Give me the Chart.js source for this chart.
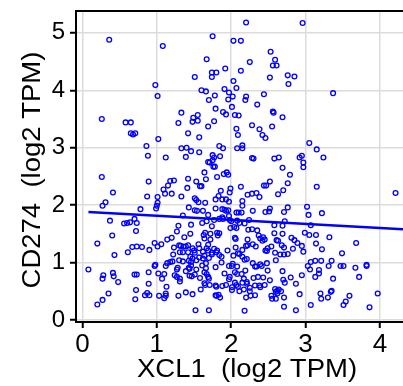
<!DOCTYPE html>
<html>
<head>
<meta charset="utf-8">
<script src="https://cdn.jsdelivr.net/npm/chart.js@4/dist/chart.umd.min.js"></script>
<style>
  html, body { margin: 0; padding: 0; background: #fff; overflow: hidden; }
  canvas { display: block; }
</style>
</head>
<body>
<canvas id="myChart" width="403" height="386"></canvas>
<script>
// XCL1 expression (log2 TPM), one value per sample
var xcl1 = [
  2.20, 2.96, 0.36, 1.08, 1.75, 2.03, 2.13, 2.53, 2.59, 2.25,
  1.67, 2.56, 2.61, 2.13, 1.92, 1.74, 1.80, 1.74, 1.51, 2.52,
  2.76, 2.85, 2.77, 2.03, 0.98, 2.07, 1.60, 1.66, 1.91, 1.97,
  3.37, 2.44, 1.78, 2.02, 1.01, 2.20, 2.19, 1.96, 1.70, 2.35,
  2.01, 1.79, 2.56, 2.57, 1.33, 1.89, 1.93, 2.05, 2.10, 1.55,
  1.49, 1.48, 1.55, 2.69, 0.26, 0.58, 0.65, 1.29, 1.77, 2.55,
  1.69, 2.28, 2.07, 2.38, 0.65, 0.68, 0.71, 1.42, 2.09, 2.42,
  2.46, 1.57, 1.02, 3.05, 0.86, 1.84, 1.89, 2.15, 2.15, 2.08,
  1.33, 1.40, 1.46, 3.15, 1.57, 2.28, 2.30, 0.88, 1.12, 1.39,
  1.75, 1.77, 1.75, 1.85, 2.58, 2.64, 2.92, 2.95, 3.24, 2.97,
  2.97, 1.69, 1.71, 1.76, 1.78, 2.69, 1.64, 1.94, 1.90, 1.96,
  2.79, 1.81, 0.26, 1.23, 1.18, 1.42, 1.66, 0.89, 1.53, 1.58,
  1.60, 2.52, 2.44, 2.47, 2.76, 3.15, 1.15, 1.41, 1.09, 1.99,
  1.98, 2.13, 2.70, 1.86, 1.11, 1.20, 0.41, 4.21, 2.28, 2.34,
  2.22, 2.63, 1.83, 0.87, 1.33, 1.01, 2.38, 1.51, 1.53, 1.56,
  1.79, 1.88, 1.93, 1.97, 2.15, 2.15, 1.01, 0.31, 1.65, 0.27,
  1.00, 0.99, 3.02, 2.76, 1.43, 2.52, 2.51, 1.79, 1.91, 1.93,
  1.96, 0.78, 1.51, 1.54, 1.62, 1.88, 2.29, 2.07, 2.10, 2.14,
  2.46, 2.71, 3.22, 3.04, 1.35, 1.69, 1.97, 1.88, 1.89, 1.84,
  1.77, 1.98, 2.00, 2.08, 0.70, 0.37, 0.64, 0.60, 0.56, 0.73,
  2.24, 2.72, 1.61, 1.67, 2.11, 2.18, 1.46, 1.29, 3.07, 2.58,
  2.69, 1.74, 2.04, 2.07, 1.99, 0.72, 2.28, 2.23, 1.65, 1.45,
  1.72, 1.81, 1.82, 1.84, 2.35, 2.99, 3.05, 3.14, 2.58, 2.69,
  1.27, 0.40, 1.37, 1.20, 1.14, 3.32, 1.63, 1.64, 2.05, 2.06,
  2.37, 2.39, 2.43, 2.45, 2.42, 2.81, 2.85, 2.22, 1.72, 2.61,
  2.63, 2.89, 0.97, 1.06, 0.20, 3.68, 1.30, 1.32, 1.36, 1.39,
  1.42, 1.56, 1.57, 1.69, 2.22, 2.20, 2.29, 3.14, 2.33, 2.68,
  2.71, 2.95, 0.67, 0.73, 0.80, 1.01, 1.23, 2.06, 2.54, 2.49,
  1.48, 1.50, 1.67, 1.69, 2.83, 0.90, 0.61, 2.97, 3.22, 1.77,
  1.80, 1.81, 1.95, 2.15, 2.46, 2.48, 1.31, 1.35, 1.42, 1.51,
  1.62, 1.64, 1.74, 1.74, 2.09, 2.11, 3.49, 2.59, 1.22, 0.43,
  2.66, 2.71, 2.76, 1.84, 1.87, 1.45, 1.48, 2.03, 1.57, 1.70,
  2.15, 2.18, 2.21, 1.30, 1.35, 1.18, 1.21, 1.43, 1.46, 1.53,
  1.62, 2.60, 3.13, 3.21, 3.35, 3.07, 1.14, 1.12, 2.29, 2.02,
  2.39, 2.41, 2.48, 0.98, 0.97, 1.46, 1.66, 1.61, 1.97, 2.01,
  1.87, 2.32, 2.34, 3.03, 3.31, 3.47, 3.51, 3.67, 3.82, 3.82,
  0.08, 1.28, 1.27, 1.43, 1.44, 1.53, 1.66, 1.79, 2.08, 2.19,
  2.49, 2.69, 3.06, 3.18, 0.41, 0.42, 1.02, 0.89, 1.64, 1.67,
  2.05, 2.08, 1.39, 1.24, 1.27, 1.51, 1.10, 1.44, 1.47, 1.91,
  2.14, 1.98, 1.97, 2.95, 2.36, 2.43, 3.18, 3.13, 2.80, 3.72,
  3.37, 0.28, 0.27, 0.70, 0.73, 1.07, 1.31, 1.31, 1.58, 1.69,
  1.70, 2.17, 2.30, 2.52, 2.70, 2.72, 0.48, 0.89, 2.15, 2.21,
  2.21, 2.87, 1.64, 1.65, 1.88, 1.93, 2.05, 2.07, 2.09, 2.01,
  1.71, 1.79, 1.80, 2.32, 2.38, 2.39, 1.13, 1.59, 2.45, 2.59,
  2.64, 2.62, 2.60, 2.67, 2.62, 2.25, 2.25, 2.17, 3.34, 3.35,
  0.72, 2.01, 3.97, 0.35, 0.84, 0.87, 0.90, 1.12, 1.12, 1.29,
  1.48, 1.39, 1.79, 1.80, 1.83, 1.85, 1.03, 1.10, 2.32, 2.26,
  2.20, 2.11, 2.92, 3.20, 3.21, 3.30, 3.59, 3.54, 3.51, 0.71,
  0.27, 2.54, 2.55, 2.60, 2.71, 0.20, 3.07, 2.71, 3.86, 1.52,
  1.70, 2.18, 2.87
];

// CD274 expression (log2 TPM), same sample order
var cd274 = [
  5.18, 5.17, 4.88, 4.77, 4.94, 4.86, 4.86, 4.67, 4.53, 4.49,
  4.54, 4.43, 4.43, 4.34, 4.38, 4.31, 4.31, 4.23, 4.23, 4.22,
  4.26, 4.24, 4.11, 4.16, 4.09, 4.04, 4.00, 3.98, 4.02, 3.96,
  3.95, 3.93, 3.91, 3.89, 3.90, 3.89, 3.83, 3.84, 3.83, 3.75,
  3.71, 3.68, 3.63, 3.61, 3.61, 3.62, 3.58, 3.57, 3.56, 3.57,
  3.52, 3.45, 3.47, 3.53, 3.50, 3.44, 3.44, 3.43, 3.46, 3.37,
  3.37, 3.39, 3.33, 3.32, 3.25, 3.23, 3.25, 3.25, 3.22, 3.22,
  3.17, 3.18, 3.15, 3.08, 3.03, 3.03, 2.99, 3.04, 2.99, 2.99,
  2.99, 3.00, 2.94, 2.97, 2.92, 2.82, 2.81, 2.86, 2.83, 2.84,
  2.87, 2.83, 2.78, 2.85, 2.81, 2.83, 2.83, 2.86, 2.83, 2.74,
  2.66, 2.75, 2.74, 2.67, 2.67, 2.65, 2.57, 2.57, 2.54, 2.53,
  2.53, 2.49, 2.49, 2.43, 2.42, 2.46, 2.45, 2.41, 2.41, 2.33,
  2.33, 2.41, 2.34, 2.34, 2.38, 2.32, 2.34, 2.30, 2.27, 2.29,
  2.22, 2.32, 2.26, 2.25, 2.20, 2.20, 2.22, 2.21, 2.20, 2.21,
  2.18, 2.19, 2.16, 2.15, 2.15, 2.14, 2.14, 2.12, 2.09, 2.05,
  2.10, 2.10, 2.10, 2.06, 2.07, 1.99, 2.04, 2.05, 2.04, 1.99,
  1.99, 1.94, 1.97, 1.96, 1.96, 1.94, 1.89, 1.94, 1.92, 1.90,
  1.91, 1.93, 1.91, 1.90, 1.90, 1.93, 1.90, 1.87, 1.87, 1.87,
  1.88, 1.88, 1.86, 1.83, 1.82, 1.83, 1.81, 1.79, 1.76, 1.76,
  1.74, 1.74, 1.72, 1.73, 1.76, 1.73, 1.70, 1.69, 1.68, 1.69,
  1.74, 1.72, 1.69, 1.72, 1.69, 1.68, 1.66, 1.64, 1.65, 1.65,
  1.64, 1.63, 1.62, 1.60, 1.60, 1.55, 1.58, 1.57, 1.52, 1.50,
  1.50, 1.52, 1.47, 1.51, 1.56, 1.52, 1.48, 1.48, 1.51, 1.50,
  1.54, 1.47, 1.44, 1.43, 1.40, 1.44, 1.48, 1.42, 1.43, 1.41,
  1.47, 1.42, 1.44, 1.40, 1.38, 1.43, 1.39, 1.40, 1.40, 1.39,
  1.38, 1.34, 1.34, 1.32, 1.33, 1.34, 1.30, 1.29, 1.28, 1.28,
  1.30, 1.32, 1.25, 1.31, 1.30, 1.29, 1.32, 1.33, 1.28, 1.30,
  1.26, 1.29, 1.27, 1.28, 1.27, 1.28, 1.26, 1.26, 1.28, 1.25,
  1.25, 1.21, 1.25, 1.21, 1.24, 1.22, 1.18, 1.19, 1.23, 1.24,
  1.18, 1.21, 1.21, 1.22, 1.21, 1.20, 1.18, 1.18, 1.18, 1.17,
  1.19, 1.12, 1.17, 1.14, 1.16, 1.15, 1.16, 1.17, 1.14, 1.13,
  1.14, 1.14, 1.15, 1.13, 1.10, 1.10, 1.07, 1.12, 1.09, 1.08,
  1.10, 1.05, 1.06, 1.04, 1.02, 1.01, 1.02, 1.03, 1.01, 1.04,
  1.07, 1.04, 1.03, 1.03, 1.03, 1.01, 0.99, 0.94, 0.99, 0.98,
  0.97, 0.94, 0.99, 0.96, 0.94, 0.95, 0.99, 0.95, 0.94, 0.94,
  1.00, 0.93, 0.93, 0.94, 0.94, 0.94, 0.94, 0.91, 0.96, 0.94,
  0.88, 0.91, 0.88, 0.91, 0.89, 0.88, 0.90, 0.92, 0.93, 0.86,
  0.86, 0.85, 0.88, 0.87, 0.82, 0.76, 0.81, 0.83, 0.83, 0.80,
  0.83, 0.80, 0.85, 0.78, 0.75, 0.79, 0.80, 0.77, 0.76, 0.81,
  0.80, 0.75, 0.71, 0.78, 0.75, 0.74, 0.81, 0.75, 0.74, 0.75,
  0.72, 0.78, 0.72, 0.79, 0.79, 0.72, 0.72, 0.67, 0.73, 0.75,
  0.72, 0.72, 0.73, 0.69, 0.70, 0.65, 0.66, 0.63, 0.65, 0.66,
  0.63, 0.63, 0.64, 0.61, 0.59, 0.61, 0.65, 0.61, 0.58, 0.57,
  0.61, 0.60, 0.58, 0.60, 0.60, 0.57, 0.58, 0.53, 0.61, 0.54,
  0.53, 0.51, 0.49, 0.50, 0.46, 0.56, 0.50, 0.53, 0.49, 0.51,
  0.52, 0.52, 0.46, 0.46, 0.43, 0.47, 0.43, 0.46, 0.42, 0.42,
  0.45, 0.48, 0.43, 0.42, 0.44, 0.39, 0.42, 0.38, 0.43, 0.42,
  0.39, 0.50, 0.45, 0.46, 0.37, 0.39, 0.42, 0.32, 0.26, 0.36,
  0.35, 0.42, 0.37, 0.37, 0.39, 0.27, 0.26, 0.23, 0.22, 0.17,
  0.17, 0.16, 0.17
];

// fitted regression line, end points
var fitX = [0.08, 4.31];
var fitY = [1.88, 1.58];

var xTicks = [0, 1, 2, 3, 4];
var yTicks = [0, 1, 2, 3, 4, 5];
var xTitle = 'XCL1  (log2 TPM)';
var yTitle = 'CD274  (log2 TPM)';

var FONT = "'Liberation Sans', Arial, sans-serif";

var points = xcl1.map(function (x, i) { return { x: x, y: cd274[i] }; });
var fitLine = fitX.map(function (x, i) { return { x: x, y: fitY[i] }; });

// top frame line and axis titles (titles are a touch wider than Arial)
var framePlugin = {
  id: 'frame',
  afterDraw: function (chart) {
    var ctx = chart.ctx;
    var area = chart.chartArea;
    ctx.save();
    ctx.strokeStyle = '#000';
    ctx.lineWidth = 2;
    ctx.beginPath();
    ctx.moveTo(area.left - 1, area.top);
    ctx.lineTo(chart.width, area.top);
    ctx.stroke();

    ctx.fillStyle = '#000';
    ctx.font = '25px ' + FONT;
    ctx.textAlign = 'center';
    ctx.textBaseline = 'middle';
    ctx.save();
    ctx.translate(247, 370);
    ctx.scale(1.1, 1);
    ctx.fillText(xTitle, 0, 0);
    ctx.restore();
    ctx.translate(33, 170);
    ctx.rotate(-Math.PI / 2);
    ctx.scale(1.1, 1);
    ctx.fillText(yTitle, 0, 0);
    ctx.restore();
  }
};

var ctx = document.getElementById('myChart').getContext('2d');
var chart = new Chart(ctx, {
  type: 'scatter',
  data: {
    datasets: [
      {
        type: 'line',
        label: 'fit',
        data: fitLine,
        borderColor: '#0000ff',
        borderWidth: 2.5,
        pointRadius: 0,
        fill: false,
        tension: 0
      },
      {
        label: 'samples',
        data: points,
        pointRadius: 2.4,
        pointBorderWidth: 1.3,
        borderColor: '#0000ff',
        backgroundColor: 'rgba(0,0,0,0)'
      }
    ]
  },
  options: {
    responsive: false,
    animation: false,
    devicePixelRatio: 1,
    layout: {
      autoPadding: false,
      padding: { top: 11, right: 0, left: 0, bottom: 0 }
    },
    plugins: {
      legend: { display: false },
      tooltip: { enabled: false }
    },
    scales: {
      x: {
        type: 'linear',
        min: -0.087,
        max: 4.31,
        afterBuildTicks: function (scale) {
          scale.ticks = xTicks.map(function (v) { return { value: v }; });
        },
        afterFit: function (scale) {
          scale.height = 64;
          scale.paddingLeft = 0;
          scale.paddingRight = 0;
        },
        grid: {
          color: '#dcdcdc',
          lineWidth: 1.5,
          tickColor: '#000',
          tickLength: 6,
          tickWidth: 2
        },
        border: { color: '#000', width: 2 },
        ticks: {
          color: '#000',
          padding: 1,
          maxRotation: 0,
          font: { family: FONT, size: 26 }
        }
      },
      y: {
        type: 'linear',
        min: -0.035,
        max: 5.38,
        afterBuildTicks: function (scale) {
          scale.ticks = yTicks.map(function (v) { return { value: v }; });
        },
        afterFit: function (scale) {
          scale.width = 76;
          scale.paddingTop = 0;
          scale.paddingBottom = 0;
        },
        grid: {
          color: '#dcdcdc',
          lineWidth: 1.5,
          tickColor: '#000',
          tickLength: 6,
          tickWidth: 2
        },
        border: { color: '#000', width: 2 },
        ticks: {
          color: '#000',
          padding: 5,
          font: { family: FONT, size: 24 }
        }
      }
    }
  },
  plugins: [framePlugin]
});
</script>
</body>
</html>
